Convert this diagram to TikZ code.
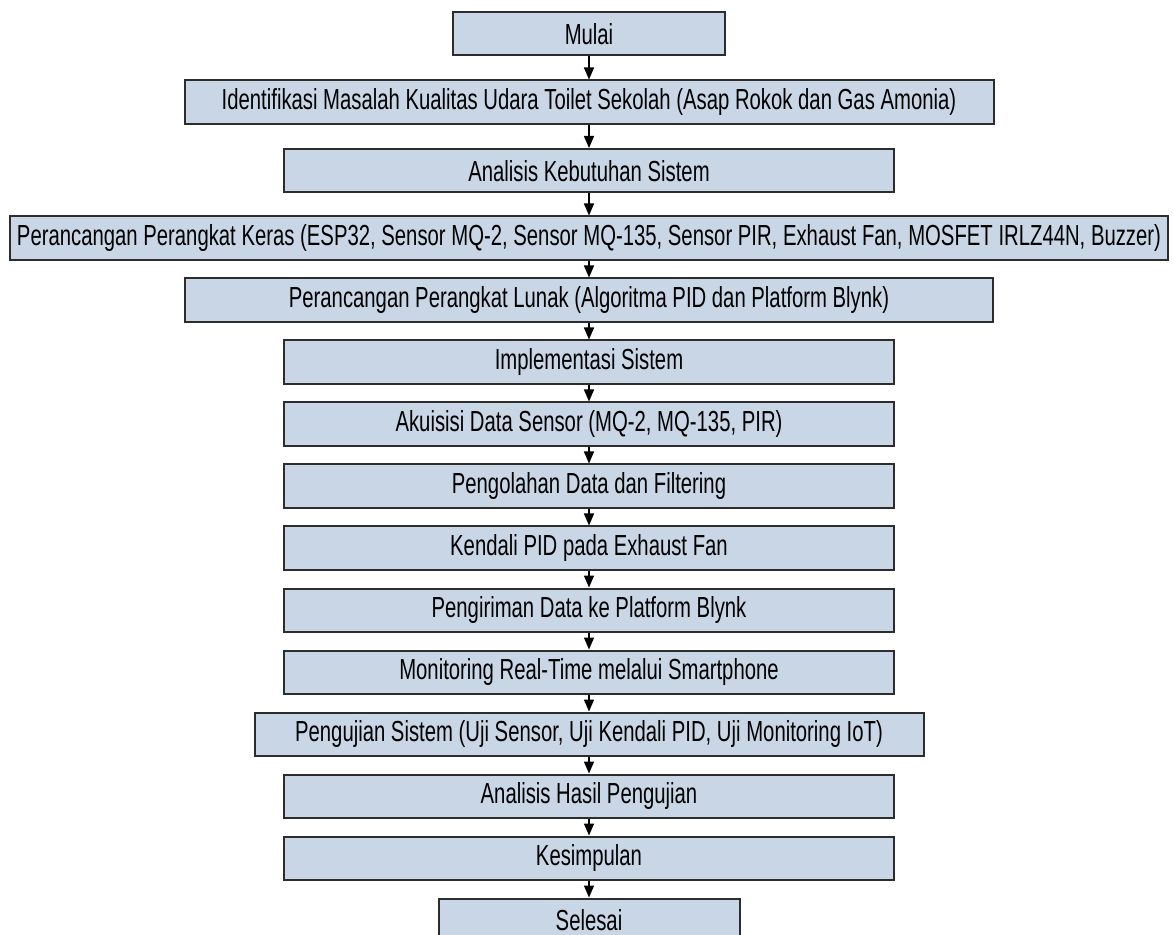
\documentclass[tikz,border=0pt]{standalone}
\usepackage{fontspec}
\setmainfont{Liberation Sans}[FakeStretch=0.70]
\usetikzlibrary{arrows.meta, positioning}
\definecolor{boxfill}{RGB}{201,214,230}
\definecolor{boxline}{RGB}{45,45,45}
\tikzset{
  procnode/.style={
    rectangle, minimum width=305pt, minimum height=21.75pt,
    inner sep=0pt, text centered,
    draw=boxline, line width=1pt, fill=boxfill,
    font=\fontsize{14.5}{16}\selectfont
  },
  arrow/.style={-{Triangle[length=6pt, width=5pt]}, line width=0.75pt, black}
}

\begin{document}
\begin{tikzpicture}[node distance=8.25pt]
  \useasboundingbox (0,0) rectangle (586.5pt,-467.5pt);

  % Tahapan
  \node[procnode, minimum width=136pt] (mulai) at (294.5pt,-16.875pt) {Mulai};
  \node[procnode, minimum width=404.5pt, below=11.5pt of mulai] (identifikasi)
    {Identifikasi Masalah Kualitas Udara Toilet Sekolah (Asap Rokok dan Gas Amonia)};
  \node[procnode, below=11.5pt of identifikasi] (kebutuhan) {Analisis Kebutuhan Sistem};
  \node[procnode, minimum width=579pt, below=11pt of kebutuhan] (keras)
    {Perancangan Perangkat Keras (ESP32, Sensor MQ-2, Sensor MQ-135, Sensor PIR, Exhaust Fan, MOSFET IRLZ44N, Buzzer)};
  \node[procnode, minimum width=404pt, below=of keras] (lunak)
    {Perancangan Perangkat Lunak (Algoritma PID dan Platform Blynk)};
  \node[procnode, below=of lunak] (implementasi) {Implementasi Sistem};
  \node[procnode, below=of implementasi] (akuisisi) {Akuisisi Data Sensor (MQ-2, MQ-135, PIR)};
  \node[procnode, below=of akuisisi] (pengolahan) {Pengolahan Data dan Filtering};
  \node[procnode, below=of pengolahan] (kendali) {Kendali PID pada Exhaust Fan};
  \node[procnode, below=of kendali] (pengiriman) {Pengiriman Data ke Platform Blynk};
  \node[procnode, below=of pengiriman] (monitoring) {Monitoring Real-Time melalui Smartphone};
  \node[procnode, minimum width=334.5pt, below=of monitoring] (pengujian)
    {Pengujian Sistem (Uji Sensor, Uji Kendali PID, Uji Monitoring IoT)};
  \node[procnode, below=of pengujian] (hasil) {Analisis Hasil Pengujian};
  \node[procnode, below=of hasil] (kesimpulan) {Kesimpulan};
  \node[procnode, minimum width=150.5pt, below=of kesimpulan] (selesai) {Selesai};

  % Panah alur
  \draw[arrow] (mulai) -- (identifikasi);
  \draw[arrow] (identifikasi) -- (kebutuhan);
  \draw[arrow] (kebutuhan) -- (keras);
  \draw[arrow] (keras) -- (lunak);
  \draw[arrow] (lunak) -- (implementasi);
  \draw[arrow] (implementasi) -- (akuisisi);
  \draw[arrow] (akuisisi) -- (pengolahan);
  \draw[arrow] (pengolahan) -- (kendali);
  \draw[arrow] (kendali) -- (pengiriman);
  \draw[arrow] (pengiriman) -- (monitoring);
  \draw[arrow] (monitoring) -- (pengujian);
  \draw[arrow] (pengujian) -- (hasil);
  \draw[arrow] (hasil) -- (kesimpulan);
  \draw[arrow] (kesimpulan) -- (selesai);

\end{tikzpicture}
\end{document}
